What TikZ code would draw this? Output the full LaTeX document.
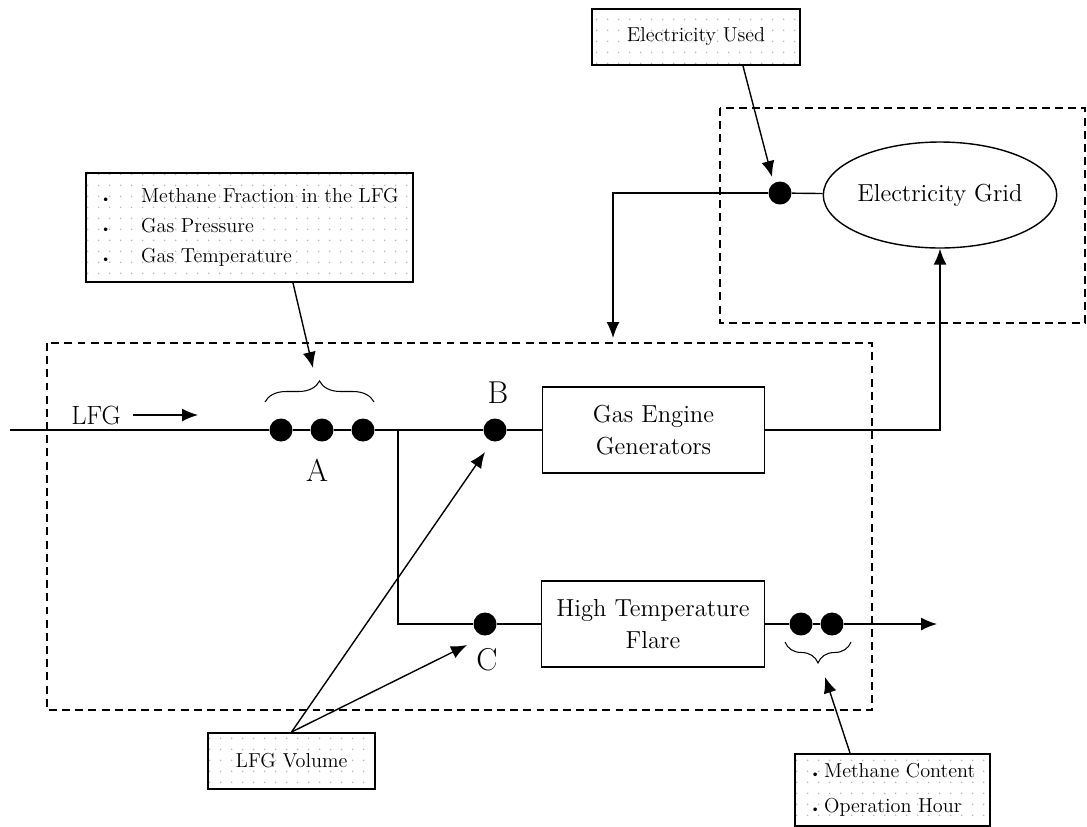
\documentclass[tikz,border=0pt]{standalone}
\usepackage{tikz}
\usetikzlibrary{arrows.meta}
\usetikzlibrary{shapes.geometric}
\usetikzlibrary{decorations.pathreplacing}
\usetikzlibrary{patterns.meta}
\definecolor{dotgray}{RGB}{185,185,185}
\tikzdeclarepattern{name=sparsedots, type=uncolored,
  bottom left={(-1pt,-1pt)}, top right={(5.3pt,5.3pt)},
  tile size={(6.3pt,6.3pt)},
  code={\fill (0,0) circle (0.55pt);}}
\newcommand{\bul}{{\scriptsize\textbullet}}

\begin{document}
\begin{tikzpicture}[x=0.02cm,y=-0.02cm,line width=0.8pt,
  >={Latex[length=0.32cm,width=0.26cm]},
  dot/.style={circle,fill,inner sep=0pt,minimum size=0.46cm},
  unit/.style={draw,align=center,inner sep=0pt,minimum width=4.45cm,minimum height=1.72cm,font=\fontsize{14}{18}\selectfont},
  infobox/.style={draw,line width=1.1pt,pattern=sparsedots,pattern color=dotgray,inner sep=0pt,font=\fontsize{11.5}{14}\selectfont},
  area/.style={draw,dash pattern=on 4.5pt off 3pt},
  letter/.style={font=\fontsize{18}{22}\selectfont}]
\useasboundingbox (0,0) rectangle (1087,826);

% boundaries
\draw[area] (47,343) rectangle (872,710);
\draw[area] (720,108) rectangle (1085,323);

% grid side
\node[infobox,minimum width=4.16cm,minimum height=1.12cm] (used) at (696,37) {Electricity Used};
\node[draw,ellipse,inner sep=0pt,minimum width=4.3cm,minimum height=2.12cm,font=\fontsize{14}{18}\selectfont] (grid) at (940,195) {Electricity Grid};
\node[dot] (e) at (780,193) {};
\coordinate (ret) at (613,338);
\coordinate (etip) at (772,177);

% measuring point A
\node[infobox,minimum width=6.54cm,minimum height=2.18cm] (frac) at (249.5,227.5)
  {\begin{tabular}{@{}c@{\hspace{0.6cm}}l@{}}
   \bul & Methane Fraction in the LFG\\[3pt]
   \bul & Gas Pressure\\[3pt]
   \bul & Gas Temperature
   \end{tabular}};
\coordinate (lfgin) at (10,430);
\node[dot] (a1) at (281,430) {};
\node[dot] (a2) at (322,430) {};
\node[dot] (a3) at (363,430) {};
\coordinate (split) at (398,430);
\coordinate (atip) at (313,368);
\draw[decorate,decoration={brace,amplitude=0.42cm},line width=0.6pt] (265,402) -- (374,402);
\node[letter] (la) at (317,470) {A};
\node[font=\fontsize{15}{18}\selectfont] (lfg) at (96,415) {LFG};
\coordinate (lfgend) at (198,415);

% B and C
\node[dot] (b) at (495,430) {};
\node[letter] (lb) at (498,393) {B};
\node[dot] (c) at (485,624) {};
\node[letter] (lc) at (487,660) {C};
\node[unit] (geg) at (653.5,430) {Gas Engine\\Generators};
\node[unit] (flare) at (653,624) {High Temperature\\Flare};
\node[infobox,minimum width=3.34cm,minimum height=1.12cm] (vol) at (291.5,761) {LFG Volume};
\coordinate (btip) at (485,452);
\coordinate (ctip) at (467,645);

% flare outlet
\node[dot] (d1) at (801,624) {};
\node[dot] (d2) at (832,624) {};
\coordinate (out) at (937,624);
\draw[decorate,decoration={brace,amplitude=0.42cm},line width=0.6pt] (851,642) -- (785,642);
\node[infobox,inner xsep=0.3cm,minimum height=1.44cm,anchor=north west] (mc) at (794,753)
  {\begin{tabular}{@{}l@{}}
   \bul\,Methane Content\\[6pt]
   \bul\,Operation Hour
   \end{tabular}};
\coordinate (mtip) at (825,677);

% flows
\draw (lfgin) -- (a1) -- (a2) -- (a3) -- (split) -- (b) -- (geg);
\draw (split) |- (c) -- (flare);
\draw (flare) -- (d1) -- (d2);
\draw[->] (d2) -- (out);
\draw[->] (geg) -| (grid);
\draw (grid) -- (e);
\draw[->] (e) -| (ret);
\draw[->] ([xshift=0.12cm]lfg.east) -- (lfgend);

% data
\draw[->] ([xshift=0.94cm]used.south) -- (etip);
\draw[->] ([xshift=0.87cm]frac.south) -- (atip);
\draw[->] (vol.north) -- (btip);
\draw[->] (vol.north) -- (ctip);
\draw[->] ([xshift=1.12cm]mc.north west) -- (mtip);
\end{tikzpicture}
\end{document}
